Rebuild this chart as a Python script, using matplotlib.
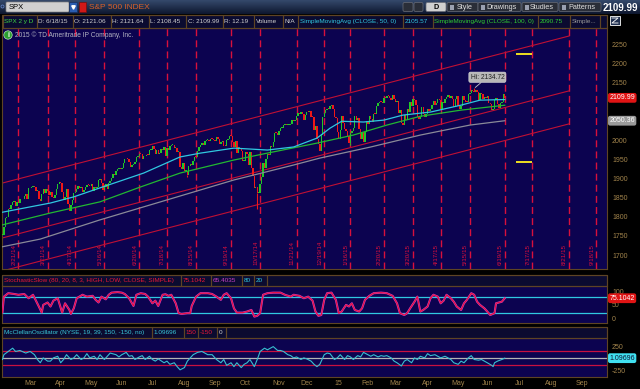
import numpy as np
import matplotlib
matplotlib.use("Agg")
import matplotlib.pyplot as plt
import matplotlib.transforms as mtransforms
from matplotlib.colors import LinearSegmentedColormap
from matplotlib.patches import Rectangle, FancyBboxPatch, Circle

plt.rcParams['font.family'] = ['Liberation Sans', 'DejaVu Sans']

# ---------------------------------------------------------------- data
FIRST_DAY = "2014-02-05"
HOLIDAYS = ["2014-02-17", "2014-04-18", "2014-05-26", "2014-07-04", "2014-09-01",
            "2014-11-27", "2014-12-25", "2015-01-01", "2015-01-19", "2015-02-16",
            "2015-04-03", "2015-05-25", "2015-07-03", "2015-09-07"]

# SPX daily closes, one per trading day from FIRST_DAY
closes_2014 = [
    1751.64, 1773.43, 1797.02, 1799.84, 1819.75, 1819.26, 1829.83, 1838.63, 1840.76, 1828.75,
    1839.78, 1836.25, 1847.61, 1845.12, 1845.16, 1854.29, 1859.45,
    1845.73, 1873.91, 1873.81, 1877.03, 1878.04, 1877.17, 1867.63, 1868.20, 1846.34, 1841.13,
    1858.83, 1872.25, 1860.77, 1872.01, 1866.52, 1857.44, 1865.62, 1852.56, 1849.04, 1857.62, 1872.34,
    1885.52, 1890.90, 1888.77, 1865.09, 1845.04, 1851.96, 1872.18, 1833.08, 1815.69, 1830.61,
    1842.98, 1862.31, 1864.85, 1871.89, 1879.55, 1875.39, 1878.61, 1863.40, 1869.43, 1878.33, 1883.95,
    1883.68, 1881.14, 1884.66, 1867.72, 1878.21, 1875.63, 1878.48, 1896.65, 1897.45, 1888.53,
    1870.85, 1877.86, 1885.08, 1872.83, 1888.03, 1892.49, 1900.53, 1911.91, 1909.78, 1920.03, 1923.57,
    1924.97, 1924.24, 1927.88, 1940.46, 1949.44, 1951.27, 1950.79, 1943.89, 1930.11, 1936.16,
    1937.78, 1941.99, 1956.98, 1959.48, 1962.87, 1962.61, 1949.98, 1959.53, 1957.22, 1960.96, 1960.23,
    1973.32, 1974.62, 1985.44, 1977.65, 1963.71, 1972.83, 1964.68, 1967.57, 1977.10, 1973.28, 1981.57,
    1958.12, 1978.22, 1973.63, 1983.53, 1987.01, 1987.98, 1978.34, 1978.91, 1969.95, 1970.07, 1930.67,
    1925.15, 1938.99, 1920.21, 1920.24, 1909.57, 1931.59, 1936.92, 1933.75, 1946.72, 1955.18,
    1955.06, 1971.74, 1981.60, 1986.51, 1992.37, 1988.40, 1997.92, 2000.02, 2000.12, 1996.74, 2003.37,
    2002.28, 2000.72, 1997.65, 2007.71, 2001.54, 1988.44, 1995.69, 1997.45, 1985.54, 1984.13,
    1998.98, 2001.57, 2011.36, 2010.40, 1994.29, 1982.77, 1998.30, 1965.99, 1982.85, 1977.80, 1972.29,
    1946.16, 1946.17, 1967.90, 1964.82, 1935.10, 1968.89, 1928.21, 1906.13, 1874.74, 1877.70, 1862.49,
    1862.76, 1886.76, 1904.01, 1941.28, 1927.11, 1950.82, 1964.58, 1961.63, 1985.05, 1982.30, 1994.65, 2018.05,
    2017.81, 2012.10, 2023.57, 2031.21, 2031.92, 2038.26, 2039.68, 2038.25, 2039.33, 2039.82,
    2041.32, 2051.80, 2048.72, 2052.75, 2063.50, 2069.41, 2067.03, 2072.83, 2067.56,
    2053.44, 2066.55, 2074.33, 2071.92, 2075.37, 2060.31, 2059.82, 2026.14, 2035.33, 2002.33, 1989.63,
    1972.74, 2012.89, 2061.23, 2070.65, 2078.54, 2082.17, 2081.88, 2088.77, 2090.57, 2080.35, 2058.90,
]
closes_2015 = [
    2058.20, 2020.58, 2002.61, 2025.90, 2062.14, 2044.81, 2028.26, 2023.03, 2011.27, 1992.67,
    2019.42, 2022.55, 2032.12, 2063.15, 2051.82, 2057.09, 2029.55, 2002.16, 2021.25, 1994.99,
    2020.85, 2050.03, 2041.51, 2062.52, 2055.47, 2046.74, 2068.59, 2068.53, 2088.48, 2096.99,
    2100.34, 2099.68, 2097.45, 2110.30, 2109.66, 2115.48, 2113.86, 2110.74, 2104.50,
    2117.39, 2107.78, 2098.53, 2101.04, 2071.26, 2079.43, 2044.16, 2040.24, 2065.95, 2053.40, 2081.19,
    2074.28, 2099.50, 2089.27, 2108.10, 2104.42, 2091.50, 2061.05, 2056.15, 2061.02, 2086.24, 2067.89,
    2059.69, 2066.96, 2080.62, 2076.33, 2081.90, 2091.18, 2102.06, 2092.43, 2095.84, 2106.63,
    2104.99, 2081.18, 2100.40, 2097.29, 2107.96, 2112.93, 2117.69, 2108.92, 2114.76, 2106.85, 2085.51,
    2108.29, 2114.49, 2089.46, 2080.15, 2088.00, 2116.10, 2105.33, 2099.12, 2098.48, 2121.10,
    2122.73, 2129.20, 2127.83, 2125.85, 2130.82, 2126.06, 2104.20, 2123.48, 2120.79, 2107.39,
    2111.73, 2109.60, 2114.07, 2095.84, 2092.83, 2079.28, 2080.15, 2105.20, 2108.86, 2094.11,
    2084.43, 2096.29, 2100.44, 2121.24, 2109.99,
]

# a few intraday extremes that stick out of the candle bodies
low_days = ["2014-04-11", "2014-08-07", "2014-10-15", "2014-12-16", "2015-01-16", "2015-03-11"]
low_values = [1814.36, 1904.78, 1820.66, 1972.56, 1988.12, 2039.69]
high_days = ["2015-05-20"]
high_values = [2134.72]

sma50_days = ["2014-02-05", "2014-03-25", "2014-04-16", "2014-05-15", "2014-06-25", "2014-07-31",
              "2014-08-20", "2014-09-23", "2014-10-24", "2014-11-19", "2014-12-12", "2014-12-26",
              "2015-01-08", "2015-01-30", "2015-02-20", "2015-03-11", "2015-04-08", "2015-05-07",
              "2015-05-27", "2015-06-19"]
sma50_values = [1812, 1836, 1852, 1878, 1914, 1956, 1966, 1979, 1974, 1982, 2005, 2031,
                2049, 2047, 2052, 2065, 2073, 2091, 2104, 2105.57]
sma100_days = ["2014-02-05", "2014-03-25", "2014-05-13", "2014-06-23", "2014-07-31", "2014-09-23",
               "2014-10-24", "2014-12-12", "2015-01-21", "2015-02-24", "2015-03-27", "2015-05-07",
               "2015-06-19"]
sma100_values = [1779, 1810, 1839, 1878, 1914, 1948, 1966, 1992, 2013, 2039, 2062, 2078, 2090.75]
sma200_days = ["2014-02-05", "2014-03-14", "2014-05-13", "2014-07-18", "2014-09-23", "2014-11-19",
               "2014-12-16", "2015-02-06", "2015-03-27", "2015-05-15", "2015-06-19"]
sma200_values = [1722, 1742, 1792, 1844, 1896, 1935, 1953, 1982, 2013, 2039, 2050.36]

expiry_days = ["2014-02-21", "2014-03-21", "2014-04-17", "2014-05-16", "2014-06-20", "2014-07-18",
               "2014-08-15", "2014-09-19", "2014-10-17", "2014-11-21", "2014-12-19", "2015-01-16",
               "2015-02-20", "2015-03-20", "2015-04-17", "2015-05-15", "2015-06-19", "2015-07-17",
               "2015-08-21", "2015-09-18"]

channel_days = ["2014-02-05", "2015-08-21"]
channel_upper = [1888, 2271]
channel_middle = [1745, 2128]
channel_lower = [1659, 2042]

move_days = ["2015-07-01", "2015-07-17"]
move_levels = [2224, 1943]

# StochasticSlow %K (bar number, value)
stoch_bars = [0, 1, 4, 8, 11, 15, 18, 21, 25, 27, 28, 31, 33, 35, 38, 41, 43, 46, 47, 49,
              51, 55, 58, 62, 64, 66, 68, 71, 73, 75, 79, 82, 84, 87, 89, 90, 92, 95, 98, 100,
              103, 105, 107, 110, 112, 114, 116, 119, 121, 123, 127, 129, 130, 133, 136, 141, 144, 147, 150, 152,
              154, 157, 159, 161, 165, 168, 171, 173, 175, 177, 179, 182, 186, 191, 194, 198, 200, 204, 207, 210,
              213, 215, 217, 219, 221, 223, 226, 229, 231, 233, 236, 238, 240, 242, 245, 247, 249, 252, 255, 260,
              264, 268, 271, 273, 276, 278, 280, 283, 285, 287, 289, 292, 294, 296, 299, 301, 303, 305, 308, 310,
              312, 315, 317, 319, 322, 324, 326, 328, 331, 333, 335, 338, 339, 341, 343, 345]
stoch_k = [22, 81, 94, 91, 88, 91, 75, 88, 44, 21, 50, 59, 44, 66, 75, 21, 56, 31, 16, 37,
           75, 88, 81, 84, 69, 59, 81, 71, 88, 96, 98, 96, 91, 75, 56, 46, 88, 94, 91, 81,
           56, 66, 46, 88, 90, 84, 88, 56, 19, 16, 19, 19, 46, 81, 94, 94, 91, 81, 69, 88,
           94, 75, 37, 21, 21, 25, 31, 6, 9, 19, 88, 94, 96, 96, 88, 81, 88, 84, 75, 81,
           66, 25, 9, 12, 69, 94, 96, 69, 19, 25, 50, 44, 56, 31, 25, 37, 69, 84, 94, 96,
           94, 84, 56, 19, 12, 19, 37, 62, 81, 25, 31, 44, 75, 88, 81, 56, 66, 88, 75, 62,
           44, 31, 56, 69, 94, 88, 62, 50, 37, 25, 12, 19, 56, 59, 62, 75.1042]
stoch_d_last = 65.4035

# McClellan oscillator (bar number, value)
mcc_bars = [0, 1, 4, 7, 9, 12, 16, 19, 22, 24, 26, 28, 31, 33, 35, 38, 40, 42, 44, 47,
            49, 51, 54, 56, 58, 60, 63, 65, 67, 70, 72, 74, 78, 80, 82, 85, 87, 89, 91, 94,
            96, 98, 101, 103, 105, 107, 111, 113, 115, 118, 120, 122, 125, 127, 129, 131, 134, 137, 141, 144,
            147, 150, 152, 154, 157, 159, 161, 164, 166, 168, 170, 173, 175, 177, 180, 182, 184, 186, 189, 191,
            193, 196, 198, 200, 202, 205, 207, 209, 212, 214, 216, 218, 221, 223, 225, 228, 230, 232, 235, 237,
            239, 241, 244, 246, 248, 251, 253, 255, 258, 260, 262, 264, 267, 269, 271, 274, 276, 278, 281, 283,
            285, 287, 290, 292, 294, 297, 299, 301, 304, 306, 308, 310, 313, 315, 317, 320, 322, 324, 327, 329,
            331, 333, 336, 337, 338, 340, 343, 345]
mcc_values = [-27, 74, 142, 210, 142, 162, 108, 142, 74, -27, -95, 7, -61, -61, 7, 41, -95, -27, 74, -27,
              7, 74, -27, 7, 95, 7, 41, -27, 74, -27, 41, 108, 74, 27, 74, 122, 41, 54, -27, 27,
              54, -27, 41, -27, -61, -14, -95, -61, -128, -95, -176, -243, -196, -61, 7, 74, 122, 142, 74, 74,
              -27, -95, -27, -149, -95, -176, -95, -196, -128, -95, -27, -176, -27, 142, 210, 176, 210, 243, 162, 162,
              142, 74, 54, 7, 27, -27, 7, -14, -61, -128, -176, -128, 74, 108, 95, -27, 7, 74, -27, 54,
              27, -27, 54, 27, 122, 74, 41, 74, 27, 54, 41, 54, 7, -61, -95, -162, -61, -27, -95, 7,
              -27, 41, 7, 95, 54, 74, 41, 7, 41, 7, -27, -95, -128, -61, -95, 7, 54, -27, -41, -27,
              -61, -95, -149, -176, -95, -61, -27, 1.09696]

month_starts = ["2014-03-01", "2014-04-01", "2014-05-01", "2014-06-01", "2014-07-01", "2014-08-01",
                "2014-09-01", "2014-10-01", "2014-11-01", "2014-12-01", "2015-01-01", "2015-02-01",
                "2015-03-01", "2015-04-01", "2015-05-01", "2015-06-01", "2015-07-01", "2015-08-01",
                "2015-09-01"]
month_labels = ["Mar", "Apr", "May", "Jun", "Jul", "Aug", "Sep", "Oct", "Nov", "Dec", "15", "Feb",
                "Mar", "Apr", "May", "Jun", "Jul", "Aug", "Sep"]
price_ticks = list(range(1700, 2251, 50))

# ---------------------------------------------------------------- style
W, H = 640, 389
NAVY = '#0c0350'
HEAD_BG = '#0b0b30'
BROWN = '#5e4424'
AXIS_TXT = '#a2844c'
DASH_RED = '#d8103c'
CHAN_RED = '#c01034'
UP_GREEN = '#20c828'
DOWN_RED = '#f01818'
CYAN = '#30c8e0'
SMA_GREEN = '#22b832'
GRAY = '#8a8a98'
MAGENTA = '#c840c8'
WHITE = '#d0d0d0'
FS = 4.6
PX_PER_BAR = 1.456
XMIN = -0.3
XMAX = XMIN + 605 / PX_PER_BAR

hol = np.array(HOLIDAYS, dtype='datetime64[D]')


def bar_of(days):
    return np.busday_count(np.datetime64(FIRST_DAY), np.array(days, dtype='datetime64[D]'), holidays=hol)


fig = plt.figure(figsize=(W / 100, H / 100), dpi=100, facecolor='black')


def panel(x0, y0, x1, y1):
    a = fig.add_axes([x0 / W, 1 - y1 / H, (x1 - x0) / W, (y1 - y0) / H])
    a.set_facecolor(NAVY)
    for s in a.spines.values():
        s.set_color(BROWN)
        s.set_linewidth(0.8)
    a.set_xlim(XMIN, XMAX)
    a.tick_params(axis='x', bottom=False, labelbottom=False)
    a.yaxis.tick_right()
    a.tick_params(axis='y', right=False, length=0, pad=3.6, labelsize=5, labelcolor=AXIS_TXT)
    return a


def value_box(a, y, text, fc, tc):
    tr = mtransforms.blended_transform_factory(a.transAxes, a.transData)
    a.text(1.004, y, text, transform=tr, fontsize=5, color=tc, va='center', ha='left',
           bbox=dict(boxstyle='round,pad=0.2,rounding_size=0.3', fc=fc, ec='none'),
           clip_on=False, zorder=8)


# ---------------------------------------------------------------- price panel
ax = panel(2, 28, 607, 269)
ax.set_ylim(1664, 2292)
ax.set_yticks(price_ticks)
# 2100 and 2050 sit under the last-value boxes
ax.set_yticklabels(['' if p in (2050, 2100) else str(p) for p in price_ticks])

exp_bars = bar_of(expiry_days)
for b in exp_bars:
    ax.axvline(b, color=DASH_RED, lw=1.0, ls=(0, (5, 3)), zorder=1)
trans = mtransforms.blended_transform_factory(ax.transData, ax.transAxes)
for d, b in zip(expiry_days, exp_bars):
    y, m, dd = d.split('-')
    ax.text(b - 3.0, 0.015, f"{int(m)}/{int(dd)}/{y[2:]}", transform=trans, rotation=90,
            fontsize=4.5, color=DASH_RED, ha='center', va='bottom', zorder=2)

cb = bar_of(channel_days)
for line in (channel_upper, channel_middle, channel_lower):
    ax.plot(cb, line, color=CHAN_RED, lw=0.8, zorder=2)

closes = np.array(closes_2014 + closes_2015)
bars = np.arange(len(closes))
opens = np.r_[closes[0], closes[:-1]]
colors = np.where(closes >= opens, UP_GREEN, DOWN_RED)
lo = np.minimum(opens, closes)
hi = np.maximum(opens, closes)
ax.bar(bars, np.maximum(hi - lo, 2.5), bottom=lo, width=0.95, color=colors, linewidth=0, zorder=3)
lb = bar_of(low_days)
ax.vlines(lb, low_values, lo[lb], colors=colors[lb], lw=0.8, zorder=3)
hb = bar_of(high_days)
ax.vlines(hb, hi[hb], high_values, colors=colors[hb], lw=0.8, zorder=3)

ax.plot(bar_of(sma200_days), sma200_values, color=GRAY, lw=0.9, zorder=4)
ax.plot(bar_of(sma100_days), sma100_values, color=SMA_GREEN, lw=0.9, zorder=4)
ax.plot(bar_of(sma50_days), sma50_values, color=CYAN, lw=0.9, zorder=4)

mb = bar_of(move_days)
ax.hlines(move_levels, mb[0], mb[1], color='#f0e020', lw=1.4, zorder=4)

ax.annotate(f"Hi: {high_values[0]:.2f}", xy=(hb[0], high_values[0]), xytext=(9.5, 8),
            textcoords='offset points', fontsize=4.8, color='#202020', ha='center', va='center',
            bbox=dict(boxstyle='round,pad=0.25', fc='#b8b8b8', ec='#dddddd', lw=0.4),
            arrowprops=dict(arrowstyle='-', color='#c8c8c8', lw=0.6, shrinkA=0, shrinkB=1), zorder=6)

value_box(ax, closes[-1], f"{closes[-1]:.2f}", '#e01414', 'white')
value_box(ax, sma200_values[-1], f"{sma200_values[-1]:.2f}", '#9a9a9a', 'white')

# ---------------------------------------------------------------- stochastic panel
st = panel(2, 286, 607, 323)
st.set_ylim(-18, 121)
st.set_yticks([0, 50, 100])
st.set_yticklabels(['0', '50', '100'])
st.axhline(80, color=CYAN, lw=0.9)
st.axhline(20, color=CYAN, lw=0.9)
st.plot(stoch_bars, stoch_k, color=MAGENTA, lw=1.5, zorder=3)
st.plot(stoch_bars, stoch_k, color='#e81038', lw=0.8, zorder=4)
value_box(st, stoch_k[-1], f"{stoch_k[-1]:.4f}", '#e01414', 'white')

# ---------------------------------------------------------------- McClellan panel
mc = panel(2, 338, 607, 377)
mc.set_ylim(-393, 423)
mc.set_yticks([-250, 250])
mc.set_yticklabels(['-250', '250'])
mc.axhline(150, color='#c81040', lw=0.9)
mc.axhline(-150, color='#c81040', lw=0.9)
mc.axhline(0, color='#b4b4b4', lw=0.9)
mc.plot(mcc_bars, mcc_values, color='#38c0d0', lw=0.8, zorder=3)
value_box(mc, mcc_values[-1], f"{mcc_values[-1]:.5f}", '#40e0f0', '#101030')

first_days = np.busday_offset(np.array(month_starts, dtype='datetime64[D]'), 0, roll='forward', holidays=hol)
mc.set_xticks(bar_of(first_days) + 2)
mc.set_xticklabels(month_labels)
mc.tick_params(axis='x', bottom=False, labelbottom=True, length=0, pad=2.2, labelsize=5, labelcolor=AXIS_TXT)

# ---------------------------------------------------------------- window chrome
ui = fig.add_axes([0, 0, 1, 1], zorder=10)
ui.axis('off')
ui.patch.set_visible(False)
grad = LinearSegmentedColormap.from_list('bar', ['#34486a', '#0e1830'])
ui.imshow(np.linspace(0, 1, 20)[:, None], cmap=grad, extent=(0, W, 14, 0), aspect='auto', zorder=0)
ui.set_xlim(0, W)
ui.set_ylim(H, 0)


def button(x0, x1, label, fc='#2a2e38', tc='#e0e0e0', weight='normal'):
    ui.add_patch(FancyBboxPatch((x0, 2.5), x1 - x0, 9, boxstyle='round,pad=0,rounding_size=1.5',
                                fc=fc, ec='#6a6e78', lw=0.5, zorder=1))
    if label:
        ui.text((x0 + x1) / 2 + (2 if label != 'D' else 0), 7.2, label, fontsize=5.2, color=tc,
                ha='center', va='center', weight=weight, zorder=2)


ui.add_patch(Circle((2.5, 6.5), 1.5, fc='none', ec='#6080c0', lw=0.6))
ui.add_patch(FancyBboxPatch((6, 2), 63, 10, boxstyle='round,pad=0,rounding_size=1',
                            fc='#d0d0d0', ec='#808080', lw=0.5, zorder=1))
ui.text(9, 7.2, 'SPX', fontsize=5.5, color='black', va='center', zorder=2)
ui.add_patch(Rectangle((69, 2), 8, 10, fc='#2a5cb0', ec='#183060', lw=0.5, zorder=1))
ui.plot([73], [7], marker='v', ms=2.5, color='white', zorder=2)
ui.add_patch(Rectangle((79, 2), 7, 10, fc='#d01818', ec='#701010', lw=0.5, zorder=1))
ui.text(89, 7.2, 'S&P 500 INDEX', fontsize=6, color='#d8602a', va='center', zorder=2)

button(403, 413, '')
button(414, 423, '')
button(426, 446, 'D', fc='#d0d0d0', tc='black', weight='bold')
button(447, 478, 'Style')
button(478, 521, 'Drawings')
button(522, 558, 'Studies')
button(559, 601, 'Patterns')
for x in (450, 481, 525, 562):
    ui.add_patch(Rectangle((x, 4.5), 4, 5, fc='#9aa0b0', ec='none', zorder=2))
ui.text(603, 7.5, f"{closes[-1]:.2f}", fontsize=7, color='white', weight='bold', va='center')

# header rows of the three panels
ui.add_patch(Rectangle((0, 14), W, 14, fc='black', ec='none', zorder=0))
head_cells = [
    (3, 37, "SPX 2 y D", '#40d840'), (37, 73, "D: 6/18/15", WHITE),
    (73, 111, f"O: {2121.06:.2f}", WHITE), (111, 149, f"H: {2121.64:.2f}", WHITE),
    (149, 186, f"L: {2108.45:.2f}", WHITE), (186, 223, f"C: {closes[-1]:.2f}", WHITE),
    (223, 254, "R: 12.19", WHITE), (254, 283, "Volume", WHITE), (283, 298, "N/A", WHITE),
    (298, 403, "SimpleMovingAvg (CLOSE, 50, 0)", CYAN), (403, 433, f"{sma50_values[-1]:.2f}", CYAN),
    (433, 538, "SimpleMovingAvg (CLOSE, 100, 0)", '#30d030'), (538, 570, f"{sma100_values[-1]:.2f}", '#30d030'),
    (570, 600, "Simple...", '#9a9a9a'), (600, 607, "", WHITE),
]
stoch_cells = [
    (2, 181, "StochasticSlow (80, 20, 8, 3, HIGH, LOW, CLOSE, SIMPLE)", '#e81838'),
    (181, 211, f"{stoch_k[-1]:.4f}", '#e81838'), (211, 242, f"{stoch_d_last:.4f}", MAGENTA),
    (242, 254, "80", CYAN), (254, 267, "20", CYAN), (267, 607, "", WHITE),
]
mcc_cells = [
    (2, 152, "McClellanOscillator (NYSE, 19, 39, 150, -150, no)", '#38c8d8'),
    (152, 184, f"{mcc_values[-1]:.5f}", '#38c8d8'), (184, 198, "150", '#e81838'),
    (198, 217, "-150", '#e81838'), (217, 226, "0", WHITE), (226, 607, "", WHITE),
]
for cells, y0, y1 in ((head_cells, 15, 27.5), (stoch_cells, 274.5, 286), (mcc_cells, 327, 338)):
    ui.add_patch(Rectangle((2, y0), 605, y1 - y0, fc=HEAD_BG, ec=BROWN, lw=0.8, zorder=1))
    for x0, x1, text, col in cells:
        ui.add_patch(Rectangle((x0, y0), x1 - x0, y1 - y0, fc='none', ec=BROWN, lw=0.8, zorder=2))
        if text:
            ui.text(x0 + 1.5, (y0 + y1) / 2 + 0.3, text, fontsize=FS, color=col,
                    va='center', ha='left', zorder=3)

ui.add_patch(Rectangle((610, 16), 10, 9, fc='#203050', ec='white', lw=0.6))
ui.plot([612, 618, 612, 618], [18, 18, 23, 23], color='white', lw=0.6)

ui.add_patch(Circle((8, 35), 4.2, fc='#2aa030', ec='#c0e0c0', lw=0.5, zorder=3))
ui.text(8, 35.3, 'i', fontsize=5, color='white', weight='bold', ha='center', va='center', zorder=4)
ui.text(15, 35.3, "2015 \u00a9 TD Ameritrade IP Company, Inc.", fontsize=4.8, color='#b4b4c4',
        va='center', zorder=3)

fig.savefig("out.png", dpi=100, facecolor='black')
